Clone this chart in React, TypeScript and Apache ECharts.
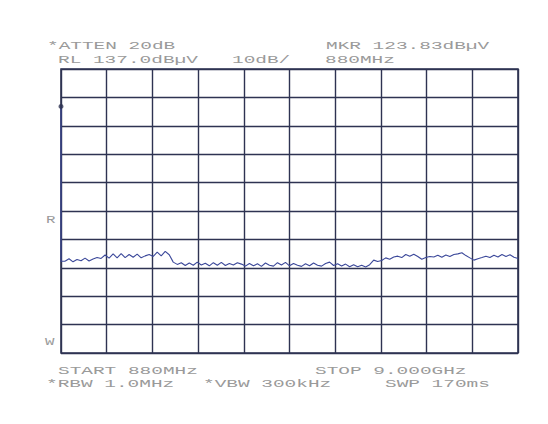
import React, { useEffect, useRef } from "react";
import * as echarts from "echarts";

// Spectrum analyser settings
const START_MHZ = 880;
const STOP_MHZ = 9000;
const REF_LEVEL = 137.0; // dBµV
const DB_PER_DIV = 10;
const DIVS = 10;
const MARKER_DBUV = 123.83;

// Trace (dBµV), evenly spaced sweep points from START to STOP
const TRACE_DBUV = [
  123.83, 69.3, 70.2, 69.1, 69.9, 69.5, 70.4, 69.4, 70.1, 70.6,
  70.3, 71.5, 70.4, 71.9, 70.5, 72.0, 70.6, 71.7, 70.7, 71.8, 70.5, 71.2, 71.7,
  71.0, 72.5, 71.2, 72.8, 71.6,
  69.0, 68.2,
  68.8, 67.8, 68.7, 67.9, 69.0, 68.0, 68.6, 67.7, 68.8, 67.9, 68.9, 67.8, 68.5, 68.0, 68.8,
  68.3, 67.6, 68.5, 67.7, 68.4, 67.5, 68.7, 67.9, 67.6, 68.8, 68.0, 68.9, 67.7, 68.5, 67.9, 67.5,
  68.4, 67.7, 68.7, 67.9, 67.6, 68.5, 69.0, 67.8, 68.4, 67.6, 68.3, 67.4, 68.1, 67.4, 67.9, 67.3, 68.1,
  69.7, 69.2,
  69.6, 70.5, 70.0, 70.8, 71.1, 70.6, 71.7, 71.1, 71.8,
  71.0, 70.0, 70.6, 71.0,
  70.8, 71.4, 70.7, 71.5, 71.0, 71.7, 71.9, 72.3,
  71.3, 70.5, 69.7, 70.2,
  70.6, 71.1, 70.6, 71.4, 70.8, 71.7, 71.0, 71.6, 70.7, 70.3,
];

// Annotation texts
const TOP_LEFT_1 = "*ATTEN 20dB";
const TOP_RIGHT_1 = "MKR 123.83dBµV";
const TOP_ROW_2 = ["RL 137.0dBµV", "10dB/", "880MHz"];
const BOTTOM_ROW_1 = ["START 880MHz", "STOP 9.000GHz"];
const BOTTOM_ROW_2 = ["*RBW 1.0MHz", "*VBW 300kHz", "SWP 170ms"];
const SIDE_LABELS = ["R", "W"];

const GRID_COLOR = "#2e3352";
const TRACE_COLOR = "#3b489a";
const TEXT_COLOR = "#9a9a9a";

function txt(text: string, x: number, y: number, sx = 1.85) {
  return {
    type: "text",
    x,
    y,
    scaleX: sx,
    silent: true,
    style: {
      text,
      fill: TEXT_COLOR,
      fontFamily: "Liberation Mono",
      fontSize: 10.5,
      verticalAlign: "middle",
      align: "left",
    },
  };
}

export default function App() {
  const ref = useRef<HTMLDivElement>(null);

  useEffect(() => {
    if (!ref.current) return;
    const chart = echarts.init(ref.current, undefined, { renderer: "svg" });
    const span = STOP_MHZ - START_MHZ;
    const n = TRACE_DBUV.length;
    const traceData = TRACE_DBUV.map((v, i) => [
      (i * span) / (n - 1),
      v - REF_LEVEL,
    ]);

    chart.setOption({
      animation: false,
      backgroundColor: "#ffffff",
      grid: {
        left: 61,
        top: 69,
        width: 457,
        height: 284,
        show: true,
        borderColor: GRID_COLOR,
        borderWidth: 1.6,
        backgroundColor: "transparent",
      },
      xAxis: {
        type: "value",
        min: 0,
        max: span,
        interval: span / DIVS,
        axisLine: { show: false },
        axisTick: { show: false },
        axisLabel: { show: false },
        splitLine: { show: true, lineStyle: { color: GRID_COLOR, width: 1.4 } },
      },
      yAxis: {
        type: "value",
        min: -DB_PER_DIV * DIVS,
        max: 0,
        interval: DB_PER_DIV,
        axisLine: { show: false },
        axisTick: { show: false },
        axisLabel: { show: false },
        splitLine: { show: true, lineStyle: { color: GRID_COLOR, width: 1.4 } },
      },
      series: [
        {
          // first sweep bin (marker) drops straight down to the noise floor
          type: "line",
          data: traceData.slice(0, 2),
          step: "start",
          showSymbol: false,
          lineStyle: { color: TRACE_COLOR, width: 1.1 },
          z: 3,
        },
        {
          type: "line",
          data: traceData.slice(1),
          showSymbol: false,
          lineStyle: { color: TRACE_COLOR, width: 1.1 },
          z: 3,
        },
        {
          type: "scatter",
          data: [[0, MARKER_DBUV - REF_LEVEL]],
          symbol: "circle",
          symbolSize: 5,
          itemStyle: { color: GRID_COLOR },
          z: 4,
        },
      ],
      graphic: [
        txt(TOP_LEFT_1, 47, 46),
        txt(TOP_RIGHT_1, 326, 46),
        txt(TOP_ROW_2[0], 58, 60),
        txt(TOP_ROW_2[1], 232, 60),
        txt(TOP_ROW_2[2], 325, 60),
        txt(BOTTOM_ROW_1[0], 58, 371),
        txt(BOTTOM_ROW_1[1], 315, 371),
        txt(BOTTOM_ROW_2[0], 46, 384),
        txt(BOTTOM_ROW_2[1], 203, 384),
        txt(BOTTOM_ROW_2[2], 385, 384),
        txt(SIDE_LABELS[0], 46, 220, 1.5),
        txt(SIDE_LABELS[1], 45, 342, 1.5),
      ],
    });
    return () => chart.dispose();
  }, []);

  return (
    <div
      ref={ref}
      style={{ position: "absolute", left: 0, top: 0, width: 548, height: 424, background: "#ffffff" }}
    />
  );
}
